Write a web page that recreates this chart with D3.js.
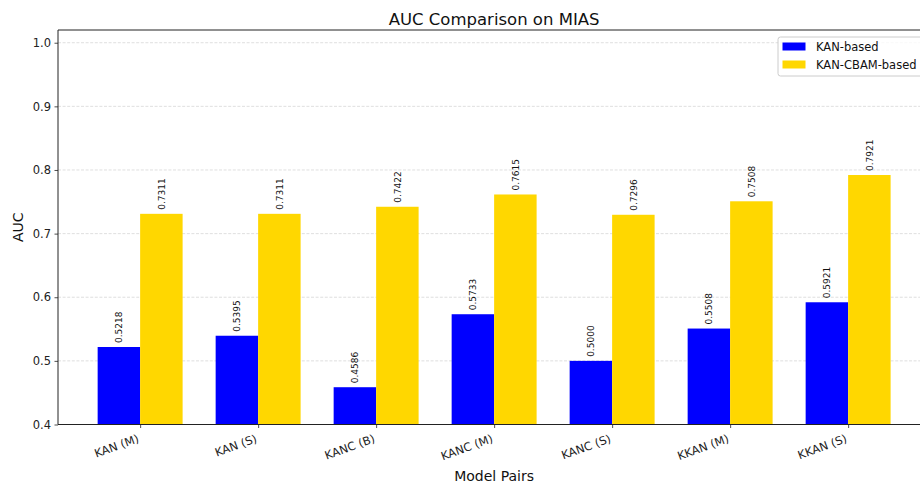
<!DOCTYPE html>
<html>
<head>
<meta charset="utf-8">
<script src="https://cdn.jsdelivr.net/npm/d3@7"></script>
<style>
  html, body { margin: 0; padding: 0; background: #fff; }
  svg { display: block; font-family: "DejaVu Sans", sans-serif; }
</style>
</head>
<body>
<svg id="chart" width="920" height="485"></svg>
<script>
// Model pairs and their AUC scores on MIAS
const categories = ["KAN (M)", "KAN (S)", "KANC (B)", "KANC (M)", "KANC (S)", "KKAN (M)", "KKAN (S)"];
const kanBased = [0.5218, 0.5395, 0.4586, 0.5733, 0.5000, 0.5508, 0.5921];
const kanCbamBased = [0.7311, 0.7311, 0.7422, 0.7615, 0.7296, 0.7508, 0.7921];
const yTicks = [0.4, 0.5, 0.6, 0.7, 0.8, 0.9, 1.0];
const seriesNames = ["KAN-based", "KAN-CBAM-based"];
const seriesColors = ["#0000ff", "#ffd700"];

(function () {
  const barWidth = 0.36;
  const svg = d3.select("#chart");
  const plotLeft = 58, plotTop = 30, plotBottom = 424.5;
  const pxPerUnit = 118;
  const xMin = -0.696, xMax = categories.length - 1 + 0.696;
  const plotRight = plotLeft + (xMax - xMin) * pxPerUnit;

  const x = d3.scaleLinear().domain([xMin, xMax]).range([plotLeft, plotRight]);
  const y = d3.scaleLinear().domain([0.4, 1.02]).range([plotBottom, plotTop]);

  // horizontal dashed grid
  svg.append("g").selectAll("line").data(yTicks).join("line")
    .attr("x1", plotLeft).attr("x2", plotRight)
    .attr("y1", d => y(d)).attr("y2", d => y(d))
    .attr("stroke", "#b0b0b0").attr("stroke-opacity", 0.5)
    .attr("stroke-width", 0.8).attr("stroke-dasharray", "3,1.6");

  // bars with rotated value labels
  const series = [kanBased, kanCbamBased];
  series.forEach((vals, si) => {
    const offset = si === 0 ? -barWidth : 0;
    const g = svg.append("g");
    g.selectAll("rect").data(vals).join("rect")
      .attr("x", (d, i) => x(i + offset))
      .attr("width", (d, i) => x(i + offset + barWidth) - x(i + offset))
      .attr("y", d => y(d))
      .attr("height", d => y(0.4) - y(d))
      .attr("fill", seriesColors[si]);
    g.selectAll("text").data(vals).join("text")
      .attr("transform", (d, i) => `translate(${x(i + offset + barWidth / 2) + 3.5},${y(d) - 4}) rotate(-90)`)
      .attr("text-anchor", "start")
      .attr("font-size", 9)
      .attr("fill", "#111")
      .text(d => d.toFixed(4));
  });

  // axes
  const yAxis = d3.axisLeft(y).tickValues(yTicks).tickFormat(d3.format(".1f")).tickSize(3.5).tickPadding(3.5);
  const yg = svg.append("g").attr("transform", `translate(${plotLeft},0)`).call(yAxis);
  yg.select(".domain").remove();
  yg.selectAll("text").attr("font-size", 11.5).attr("fill", "#222").attr("font-family", "DejaVu Sans");
  yg.selectAll("line").attr("stroke", "#222").attr("stroke-width", 0.8);

  const xAxis = d3.axisBottom(x).tickValues(d3.range(categories.length))
    .tickFormat(i => categories[i]).tickSize(3.5).tickPadding(3.5);
  const xg = svg.append("g").attr("transform", `translate(0,${plotBottom})`).call(xAxis);
  xg.select(".domain").remove();
  xg.selectAll("line").attr("stroke", "#222").attr("stroke-width", 0.8);
  // labels tilted 20 degrees, right edge of their rotated box at the tick
  xg.selectAll("text")
    .attr("font-size", 11.5).attr("fill", "#222").attr("font-family", "DejaVu Sans")
    .attr("text-anchor", "end").attr("dy", null)
    .attr("dominant-baseline", "text-before-edge")
    .attr("y", 0)
    .attr("transform", "translate(-4.6,7) rotate(-20)");

  // spines
  svg.append("path")
    .attr("d", `M${plotLeft},${plotTop}H${plotRight}V${plotBottom}H${plotLeft}Z`)
    .attr("fill", "none").attr("stroke", "#222").attr("stroke-width", 1);

  // titles
  svg.append("text").attr("x", (plotLeft + plotRight) / 2).attr("y", 24.5)
    .attr("text-anchor", "middle").attr("font-size", 16.5).attr("fill", "#111")
    .text("AUC Comparison on MIAS");
  svg.append("text").attr("x", (plotLeft + plotRight) / 2).attr("y", 480.5)
    .attr("text-anchor", "middle").attr("font-size", 14).attr("fill", "#111")
    .text("Model Pairs");
  svg.append("text").attr("transform", `translate(23,${(plotTop + plotBottom) / 2}) rotate(-90)`)
    .attr("text-anchor", "middle").attr("font-size", 14).attr("fill", "#111")
    .text("AUC");

  // legend
  const lg = svg.append("g").attr("transform", "translate(778,37)");
  lg.append("rect").attr("x", 0).attr("y", 0).attr("width", 146).attr("height", 39)
    .attr("rx", 2.5).attr("fill", "#fff").attr("fill-opacity", 0.8)
    .attr("stroke", "#cccccc").attr("stroke-width", 1);
  seriesNames.forEach((name, i) => {
    lg.append("rect").attr("x", 4.5).attr("y", 5.5 + i * 18).attr("width", 23).attr("height", 8)
      .attr("fill", seriesColors[i]);
    lg.append("text").attr("x", 38).attr("y", 13.5 + i * 18)
      .attr("font-size", 11.5).attr("fill", "#111").text(name);
  });
})();
</script>
</body>
</html>
